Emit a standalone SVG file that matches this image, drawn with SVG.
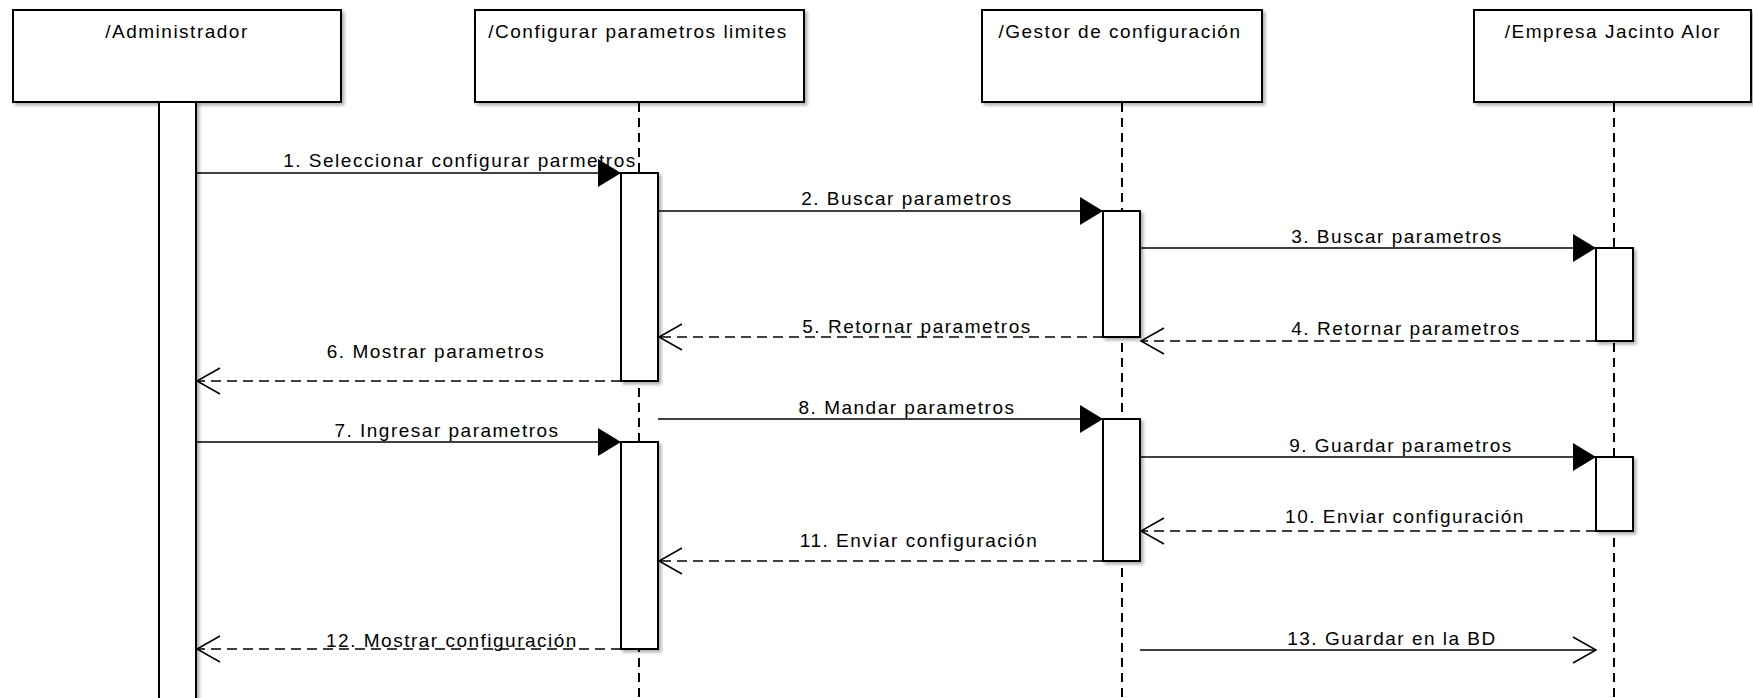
<svg xmlns="http://www.w3.org/2000/svg" width="1753" height="698" viewBox="0 0 1753 698">
  <style>
    .box { fill: #ffffff; stroke: #000000; stroke-width: 2; filter: url(#shadow); }
    .bar { fill: #ffffff; stroke: #000000; stroke-width: 2; filter: url(#shadow); }
    .life { stroke: #000000; stroke-width: 2; stroke-dasharray: 9 6; fill: none; }
    .call { stroke: #000000; stroke-width: 1.7; fill: none; }
    .reply { stroke: #000000; stroke-width: 1.7; fill: none; stroke-dasharray: 10 6; }
    .title, .label { font-family: "Liberation Sans", Arial, sans-serif; font-size: 19px; letter-spacing: 1.5px; fill: #000000; text-anchor: middle; }
  </style>
  <defs>
    <filter id="shadow" x="-10%" y="-10%" width="130%" height="130%">
      <feDropShadow dx="2.5" dy="2.5" stdDeviation="1.5" flood-color="#000000" flood-opacity="0.3"/>
    </filter>
    <marker id="solidHead" markerUnits="userSpaceOnUse" markerWidth="24" markerHeight="30" viewBox="0 0 24 30" refX="23" refY="14" orient="auto">
      <path d="M0,0 L23,14 L0,28 Z" fill="#000000"/>
    </marker>
    <marker id="openHead" markerUnits="userSpaceOnUse" markerWidth="26" markerHeight="30" viewBox="0 0 26 30" refX="24" refY="14" orient="auto">
      <path d="M1,1 L24,14 L1,27" fill="none" stroke="#000000" stroke-width="1.5"/>
    </marker>
  </defs>

  <rect width="1753" height="698" fill="#ffffff"/>

  <!-- lifeline: Administrador -->
  <g id="administrador">
    <rect class="box" x="13" y="10" width="328" height="92"/>
    <text class="title" x="177" y="38">/Administrador</text>
    <rect class="bar" x="159" y="102" width="37" height="610"/>
  </g>

  <!-- lifeline: Configurar parametros limites -->
  <g id="configurar">
    <rect class="box" x="475" y="10" width="329" height="92"/>
    <text class="title" x="638" y="38">/Configurar parametros limites</text>
    <line class="life" x1="639" y1="103" x2="639" y2="698"/>
    <rect class="bar" x="621" y="173" width="37" height="208"/>
    <rect class="bar" x="621" y="442" width="37" height="207"/>
  </g>

  <!-- lifeline: Gestor de configuración -->
  <g id="gestor">
    <rect class="box" x="982" y="10" width="280" height="92"/>
    <text class="title" x="1120" y="38">/Gestor de configuración</text>
    <line class="life" x1="1122" y1="103" x2="1122" y2="698"/>
    <rect class="bar" x="1103" y="211" width="37" height="126"/>
    <rect class="bar" x="1103" y="419" width="37" height="142"/>
  </g>

  <!-- lifeline: Empresa Jacinto Alor -->
  <g id="empresa">
    <rect class="box" x="1474" y="10" width="277" height="92"/>
    <text class="title" x="1613" y="38">/Empresa Jacinto Alor</text>
    <line class="life" x1="1614" y1="103" x2="1614" y2="698"/>
    <rect class="bar" x="1596" y="248" width="37" height="93"/>
    <rect class="bar" x="1596" y="457" width="37" height="74"/>
  </g>

  <!-- messages -->
  <g id="connectors">
    <line class="call" x1="196" y1="173" x2="621" y2="173" marker-end="url(#solidHead)"/>
    <line class="call" x1="658" y1="211" x2="1103" y2="211" marker-end="url(#solidHead)"/>
    <line class="call" x1="1140" y1="248" x2="1596" y2="248" marker-end="url(#solidHead)"/>
    <line class="reply" x1="1596" y1="341" x2="1141" y2="341" marker-end="url(#openHead)"/>
    <line class="reply" x1="1103" y1="337" x2="659" y2="337" marker-end="url(#openHead)"/>
    <line class="reply" x1="621" y1="381" x2="197" y2="381" marker-end="url(#openHead)"/>
    <line class="call" x1="196" y1="442" x2="621" y2="442" marker-end="url(#solidHead)"/>
    <line class="call" x1="658" y1="419" x2="1103" y2="419" marker-end="url(#solidHead)"/>
    <line class="call" x1="1140" y1="457" x2="1596" y2="457" marker-end="url(#solidHead)"/>
    <line class="reply" x1="1596" y1="531" x2="1141" y2="531" marker-end="url(#openHead)"/>
    <line class="reply" x1="1103" y1="561" x2="659" y2="561" marker-end="url(#openHead)"/>
    <line class="reply" x1="621" y1="649" x2="197" y2="649" marker-end="url(#openHead)"/>
    <line class="call" x1="1140" y1="650" x2="1596" y2="650" marker-end="url(#openHead)"/>

    <text class="label" x="460" y="167">1. Seleccionar configurar parmetros</text>
    <text class="label" x="907" y="205">2. Buscar parametros</text>
    <text class="label" x="1397" y="243">3. Buscar parametros</text>
    <text class="label" x="1406" y="335">4. Retornar parametros</text>
    <text class="label" x="917" y="333">5. Retornar parametros</text>
    <text class="label" x="436" y="358">6. Mostrar parametros</text>
    <text class="label" x="447" y="437">7. Ingresar parametros</text>
    <text class="label" x="907" y="414">8. Mandar parametros</text>
    <text class="label" x="1401" y="452">9. Guardar parametros</text>
    <text class="label" x="1405" y="523">10. Enviar configuración</text>
    <text class="label" x="919" y="547">11. Enviar configuración</text>
    <text class="label" x="452" y="647">12. Mostrar configuración</text>
    <text class="label" x="1392" y="645">13. Guardar en la BD</text>
  </g>
</svg>
